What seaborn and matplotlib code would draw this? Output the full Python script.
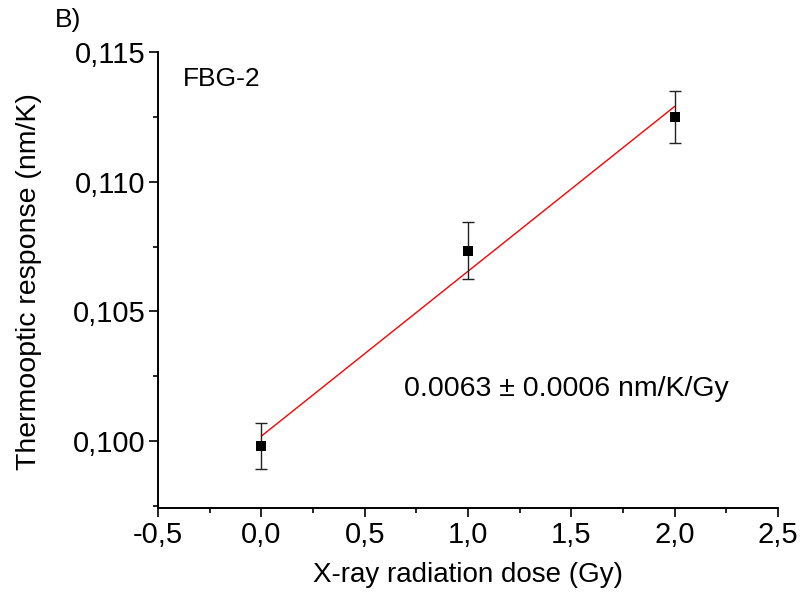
import numpy as np
import pandas as pd
import matplotlib
matplotlib.use("Agg")
import matplotlib.pyplot as plt
from matplotlib.ticker import MultipleLocator, FuncFormatter
import seaborn as sns

# Measured thermo-optic response of FBG-2 versus X-ray dose
dose_gy = [0.0, 1.0, 2.0]
response = [0.09980, 0.10733, 0.11251]
response_err = [0.00089, 0.00110, 0.00100]

x_ticks = [-0.5, 0.0, 0.5, 1.0, 1.5, 2.0, 2.5]
y_ticks = [0.100, 0.105, 0.110, 0.115]

sns.set_style("ticks")
plt.rcParams["font.family"] = ["Liberation Sans", "DejaVu Sans"]
plt.rcParams["text.color"] = "black"
plt.rcParams["axes.labelcolor"] = "black"

df = pd.DataFrame({"dose": dose_gy, "resp": response, "err": response_err})

fig = plt.figure(figsize=(8.07, 5.95), dpi=100)
ax = fig.add_axes([0.1958, 0.1462, 0.7682, 0.7664])

# Linear fit drawn through the data range
sns.regplot(data=df, x="dose", y="resp", ci=None, scatter=False, ax=ax,
            line_kws=dict(color="#ff0000", lw=1.0, zorder=2))

ax.errorbar(df["dose"], df["resp"], yerr=df["err"], fmt="none",
            ecolor="#222222", elinewidth=1.0, capsize=4.3, capthick=1.0, zorder=3)
sns.scatterplot(data=df, x="dose", y="resp", marker="s", s=52, color="black",
                edgecolor="black", linewidth=0, ax=ax, zorder=4)

ax.set_xlim(-0.5, 2.5)
ax.set_ylim(0.09742, 0.115)
ax.set_xticks(x_ticks)
ax.set_yticks(y_ticks)
ax.xaxis.set_minor_locator(MultipleLocator(0.25))
ax.yaxis.set_minor_locator(MultipleLocator(0.0025))

comma = lambda fmt: FuncFormatter(lambda v, p: (fmt % v).replace(".", ","))
ax.xaxis.set_major_formatter(comma("%.1f"))
ax.yaxis.set_major_formatter(comma("%.3f"))

for side in ("top", "right"):
    ax.spines[side].set_visible(False)
for side in ("left", "bottom"):
    ax.spines[side].set_linewidth(1.4)
    ax.spines[side].set_color("black")

ax.tick_params(which="major", direction="out", length=6.5, width=1.2,
               labelsize=21, colors="black", pad=2.5)
ax.tick_params(which="minor", direction="out", length=3.6, width=1.2, colors="black")

ax.set_xlabel("X-ray radiation dose (Gy)", fontsize=20)
ax.set_ylabel("Thermooptic response (nm/K)", fontsize=20.5)
ax.xaxis.label.set_va("center")
ax.xaxis.set_label_coords(0.5, -0.147)
ax.yaxis.set_label_coords(-0.187, 0.497)

ax.text(0.04, 0.94, "FBG-2", transform=ax.transAxes, fontsize=19,
        ha="left", va="center")
ax.text(0.658, 0.261, "0.0063 \u00b1 0.0006 nm/K/Gy", transform=ax.transAxes,
        fontsize=20.5, ha="center", va="center")
fig.text(0.068, 0.966, "B)", fontsize=19, ha="left", va="center")

fig.savefig("out.png", dpi=100)
